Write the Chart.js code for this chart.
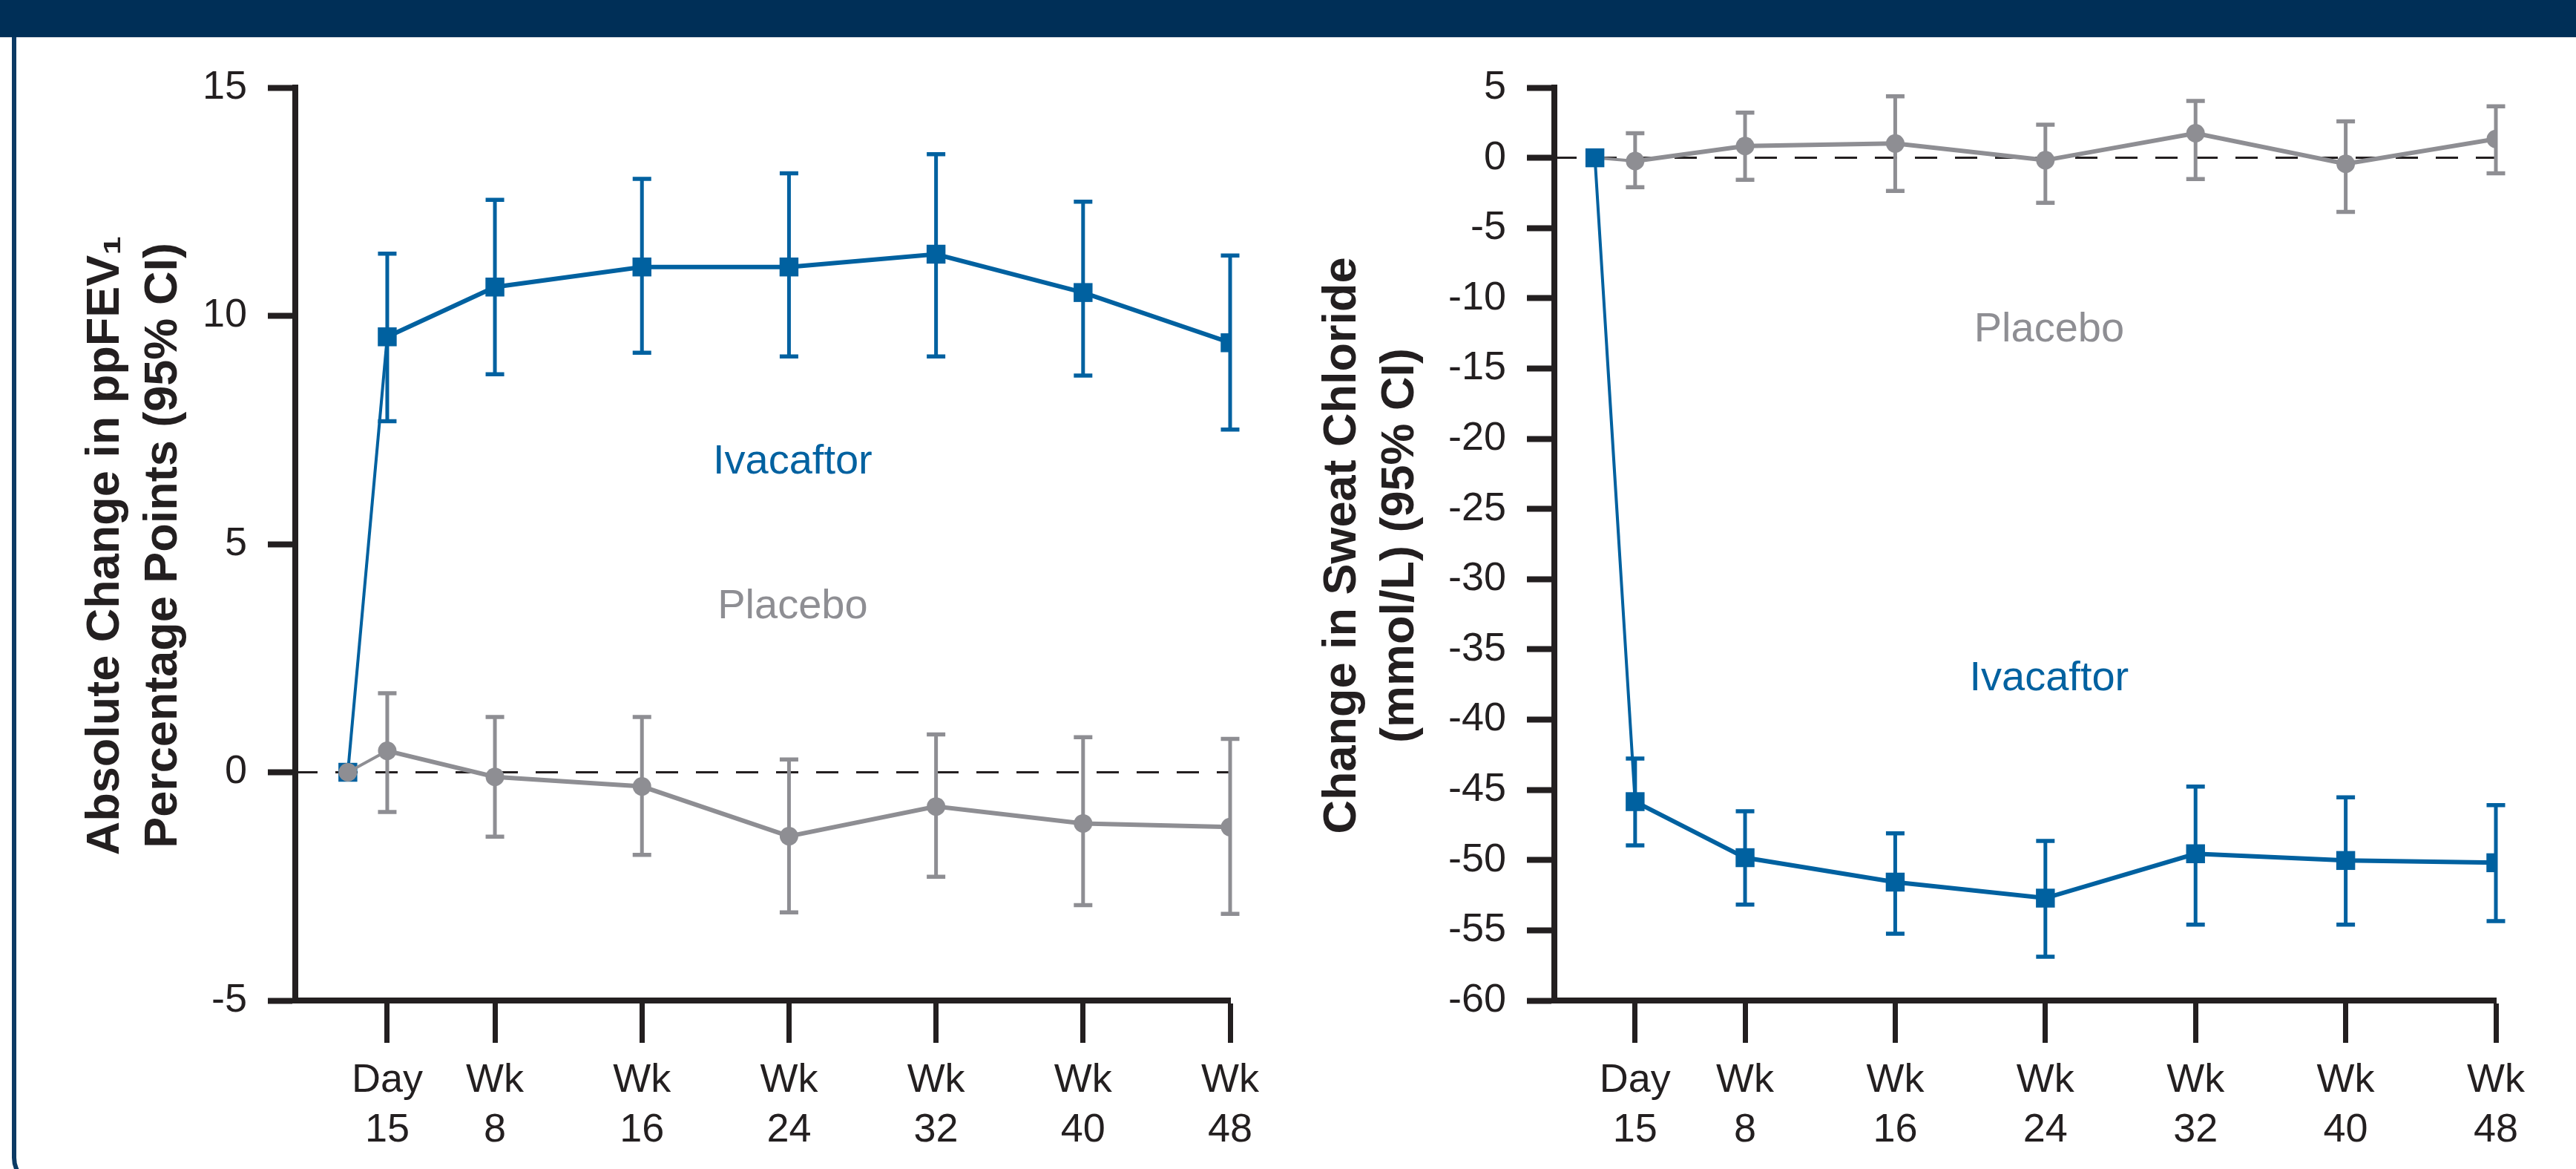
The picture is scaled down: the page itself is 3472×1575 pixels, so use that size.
<!DOCTYPE html>
<html><head><meta charset="utf-8">
<script src="https://cdn.jsdelivr.net/npm/chart.js@4.4.1/dist/chart.umd.min.js"></script>
<style>
html,body{margin:0;padding:0;background:#fff;width:3472px;height:1575px;overflow:hidden;position:relative;}
#banner{position:absolute;left:0;top:0;width:3472px;height:50px;background:#002f57;border-bottom:1px solid #d9dde2;}
#card{position:absolute;left:16px;top:50px;width:3600px;height:1550px;border-left:6px solid #0c3a64;border-bottom:6px solid #0c3a64;border-bottom-left-radius:40px;box-sizing:border-box;}
canvas{position:absolute;top:0;}
#c1{left:0px;}
#c2{left:1760px;}
</style></head>
<body>
<div id="banner"></div><div id="card"></div>
<canvas id="c1" width="1760" height="1575"></canvas>
<canvas id="c2" width="1712" height="1575"></canvas>
<script>
// ---- Data ----
const weeks = [0, 15/7, 8, 16, 24, 32, 40, 48];
const tickWeeks = [15/7, 8, 16, 24, 32, 40, 48];
const tickLabels = [['Day','15'],['Wk','8'],['Wk','16'],['Wk','24'],['Wk','32'],['Wk','40'],['Wk','48']];

// ppFEV1 absolute change
const fevIva   = [0, 9.54, 10.63, 11.07, 11.07, 11.35, 10.51, 9.41];
const fevIvaLo = [null, 7.69, 8.72, 9.19, 9.11, 9.11, 8.69, 7.51];
const fevIvaHi = [null, 11.36, 12.54, 13.00, 13.12, 13.54, 12.50, 11.32];
const fevPbo   = [0, 0.47, -0.10, -0.31, -1.40, -0.75, -1.12, -1.20];
const fevPboLo = [null, -0.87, -1.41, -1.81, -3.07, -2.29, -2.91, -3.10];
const fevPboHi = [null, 1.73, 1.21, 1.21, 0.28, 0.83, 0.77, 0.73];

// Sweat chloride change
const scIva   = [0, -45.84, -49.83, -51.57, -52.71, -49.55, -50.03, -50.19];
const scIvaLo = [null, -48.96, -53.17, -55.24, -56.88, -54.60, -54.60, -54.35];
const scIvaHi = [null, -42.77, -46.53, -48.10, -48.64, -44.77, -45.54, -46.09];
const scPbo   = [0, -0.23, 0.84, 1.02, -0.17, 1.75, -0.43, 1.34];
const scPboLo = [null, -2.09, -1.57, -2.36, -3.21, -1.51, -3.85, -1.10];
const scPboHi = [null, 1.75, 3.22, 4.38, 2.36, 4.05, 2.60, 3.67];

const fevTitle = ['Absolute Change in ppFEV\u2081', 'Percentage Points (95% CI)'];
const scTitle  = ['Change in Sweat Chloride', '(mmol/L) (95% CI)'];

// ---- Styles ----
const BLUE = '#0061a0';
const GRAY = '#8e8e93';
const INK = '#231f20';
const FAMILY = '"Liberation Sans", Arial, Helvetica, sans-serif';

const errorBarPlugin = {
  id: 'errbars',
  beforeDatasetDraw(chart, args) {
    const ds = chart.data.datasets[args.index];
    if (!ds.errLo) return;
    const xs = chart.scales.x, ys = chart.scales.y, ctx = chart.ctx;
    ctx.save();
    ctx.strokeStyle = ds.borderColor;
    ds.data.forEach((p, i) => {
      const lo = ds.errLo[i], hi = ds.errHi[i];
      if (lo == null || hi == null) return;
      const x = xs.getPixelForValue(p.x);
      const y1 = ys.getPixelForValue(lo), y2 = ys.getPixelForValue(hi);
      ctx.lineWidth = 5;
      ctx.beginPath(); ctx.moveTo(x, y1); ctx.lineTo(x, y2); ctx.stroke();
      ctx.lineWidth = 5.5;
      ctx.beginPath();
      ctx.moveTo(x - 12.5, y1); ctx.lineTo(x + 12.5, y1);
      ctx.moveTo(x - 12.5, y2); ctx.lineTo(x + 12.5, y2);
      ctx.stroke();
    });
    ctx.restore();
  }
};

const labelPlugin = {
  id: 'serieslabels',
  afterDatasetsDraw(chart, args, opts) {
    const xs = chart.scales.x, ys = chart.scales.y, ctx = chart.ctx;
    ctx.save();
    ctx.font = '56px ' + FAMILY;
    ctx.textAlign = 'center';
    ctx.textBaseline = 'middle';
    (opts.items || []).forEach(it => {
      ctx.fillStyle = it.color;
      ctx.fillText(it.text, xs.getPixelForValue(it.x), ys.getPixelForValue(it.y));
    });
    ctx.restore();
  }
};

const axisTitlePlugin = {
  id: 'axistitle',
  afterDraw(chart, args, opts) {
    const ys = chart.scales.y, ctx = chart.ctx;
    const cy = (ys.top + ys.bottom) / 2 + 2;
    ctx.save();
    ctx.font = 'bold 63px ' + FAMILY;
    ctx.fillStyle = INK;
    ctx.textAlign = 'center';
    ctx.textBaseline = 'middle';
    (opts.lines || []).forEach((t, i) => {
      ctx.save();
      ctx.translate(ys.left + opts.offsets[i], cy);
      ctx.rotate(-Math.PI / 2);
      ctx.fillText(t, 0, 0);
      ctx.restore();
    });
    ctx.restore();
  }
};

function series(label, vals, lo, hi, color, style, radius, order) {
  return {
    label, order,
    data: weeks.map((w, i) => ({x: w, y: vals[i]})),
    errLo: lo, errHi: hi,
    borderColor: color, backgroundColor: color,
    pointBackgroundColor: color, pointBorderWidth: 0,
    pointStyle: style, pointRadius: radius,
    borderWidth: 6, tension: 0, fill: false,
    segment: { borderWidth: c => c.p0DataIndex === 0 ? 4 : 6 }
  };
}

function makeChart(id, c) {
  return new Chart(document.getElementById(id), {
    type: 'line',
    data: {
      datasets: [
        { label: 'zero', order: 10, data: [{x: c.xMin, y: 0}, {x: 48, y: 0}],
          borderColor: INK, borderWidth: 3, borderDash: [30, 24], pointRadius: 0, fill: false },
        series('Ivacaftor', c.iva, c.ivaLo, c.ivaHi, BLUE, 'rect', 18, c.ivaOrder),
        series('Placebo', c.pbo, c.pboLo, c.pboHi, GRAY, 'circle', 12.5, c.pboOrder)
      ]
    },
    options: {
      responsive: false, animation: false, devicePixelRatio: 1,
      layout: { padding: { left: 0, top: 118, right: c.padRight, bottom: 0 } },
      plugins: {
        legend: { display: false }, tooltip: { enabled: false },
        serieslabels: { items: c.labels },
        axistitle: { lines: c.title, offsets: c.titleOffsets }
      },
      scales: {
        x: {
          type: 'linear', min: c.xMin, max: 48,
          afterBuildTicks: s => { s.ticks = tickWeeks.map(v => ({ value: v })); },
          afterFit: s => { s.height = 227; },
          ticks: {
            callback: (v, i) => tickLabels[i],
            font: { family: FAMILY, size: 54, lineHeight: 1.24 },
            color: INK, padding: 18, maxRotation: 0, autoSkip: false
          },
          grid: { drawOnChartArea: false, drawTicks: true, tickLength: 57, tickWidth: 7, tickColor: INK },
          border: { display: true, width: 8, color: INK }
        },
        y: {
          min: c.yMin, max: c.yMax,
          afterFit: s => { s.width = c.yWidth; },
          ticks: { stepSize: 5, font: { family: FAMILY, size: 54 }, color: INK, padding: 28 },
          grid: { drawOnChartArea: false, drawTicks: true, tickLength: 37, tickWidth: 8, tickColor: INK },
          border: { display: true, width: 8, color: INK },
          title: { display: false }
        }
      }
    },
    plugins: [errorBarPlugin, labelPlugin, axisTitlePlugin]
  });
}

makeChart('c1', {
  xMin: -2.86, yMin: -5, yMax: 15, yWidth: 398, padRight: 102,
  title: fevTitle, titleOffsets: [143, 221],
  iva: fevIva, ivaLo: fevIvaLo, ivaHi: fevIvaHi, ivaOrder: 2,
  pbo: fevPbo, pboLo: fevPboLo, pboHi: fevPboHi, pboOrder: 1,
  labels: [
    { text: 'Ivacaftor', x: 24.2, y: 6.8, color: BLUE },
    { text: 'Placebo', x: 24.2, y: 3.63, color: GRAY }
  ]
});

makeChart('c2', {
  xMin: -2.16, yMin: -60, yMax: 5, yWidth: 335, padRight: 108,
  title: scTitle, titleOffsets: [50, 128],
  iva: scIva, ivaLo: scIvaLo, ivaHi: scIvaHi, ivaOrder: 1,
  pbo: scPbo, pboLo: scPboLo, pboHi: scPboHi, pboOrder: 2,
  labels: [
    { text: 'Placebo', x: 24.2, y: -12.28, color: GRAY },
    { text: 'Ivacaftor', x: 24.2, y: -37.07, color: BLUE }
  ]
});
</script>
</body></html>
